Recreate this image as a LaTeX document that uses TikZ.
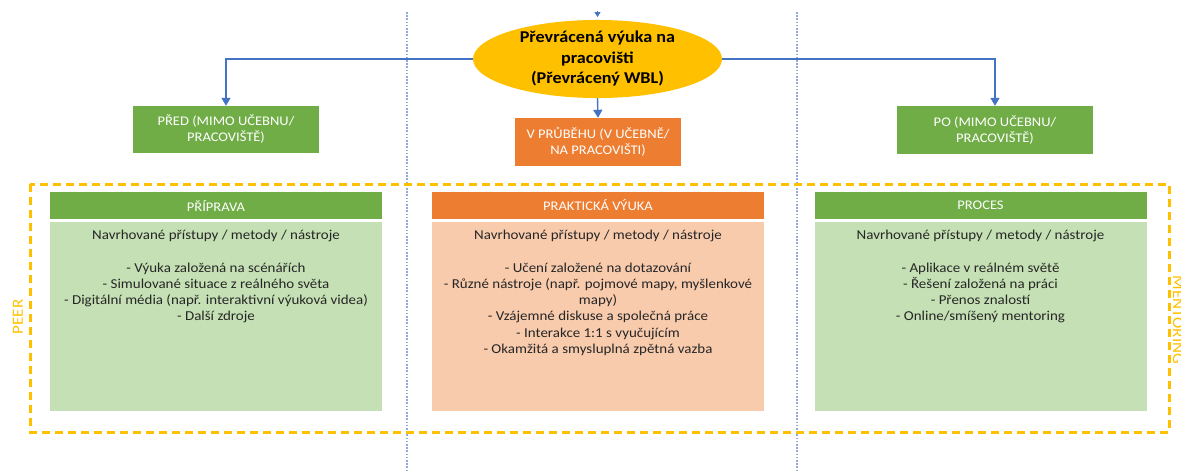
\documentclass[tikz,border=0pt]{standalone}
\usepackage{fontspec}
\setmainfont{Carlito}[FakeStretch=1.1]
\usetikzlibrary{shapes.geometric,arrows.meta}
\definecolor{wblgreen}{HTML}{70AD47}
\definecolor{wblgreenlight}{HTML}{C5E0B4}
\definecolor{wblorange}{HTML}{ED7D31}
\definecolor{wblorangelight}{HTML}{F8CBAD}
\definecolor{wblgold}{HTML}{FFC000}
\definecolor{wblblue}{HTML}{4472C4}
\definecolor{wblguide}{HTML}{8FAADC}
\definecolor{wbltext}{HTML}{262626}
\begin{document}
\begin{tikzpicture}[x=1pt,y=-1pt,
  conn/.style={draw=wblblue, line width=1.4pt, -{Triangle[width=9pt,length=8pt]}},
  guide/.style={draw=wblguide, line width=1.8pt, dash pattern=on 1.6pt off 1.6pt},
  phase/.style={rectangle, inner sep=0pt, text=white, align=center,
    font=\fontsize{13.2}{16}\selectfont},
  header/.style={rectangle, inner sep=0pt, minimum width=332pt, minimum height=27pt,
    text=white, font=\fontsize{13.2}{16}\selectfont},
  panel/.style={rectangle, inner sep=0pt, minimum width=332pt, minimum height=189pt},
  paneltext/.style={anchor=north, inner sep=0pt, align=center, text=wbltext,
    font=\fontsize{13.6}{16.3}\selectfont},
  side/.style={text=wblgold, inner sep=0pt, font=\fontsize{15.5}{18}\selectfont}
]
\useasboundingbox (0,0) rectangle (1181,472);
\clip (0,0) rectangle (1181,472);

% column separators
\draw[guide] (407,12) -- (407,472);
\draw[guide] (797,12) -- (797,472);

% dashed frame around the three panels
\draw[wblgold, line width=3pt, dash pattern=on 8pt off 5pt] (30,184) rectangle (1169,432);

% central topic
\node[ellipse, fill=wblgold, minimum width=249pt, minimum height=78pt, inner sep=0pt,
  align=center, font=\bfseries\fontsize{16.5}{20.5}\selectfont] (ell) at (597.5,59)
  {Převrácená výuka na\\pracovišti\\(Převrácený WBL)};

% phases
\node[phase, fill=wblgreen, minimum width=186pt, minimum height=47pt] (pred) at (226,129.5)
  {PŘED (MIMO UČEBNU/\\PRACOVIŠTĚ)};
\node[phase, fill=wblorange, minimum width=166pt, minimum height=48pt] (prub) at (598,142)
  {V PRŮBĚHU (V UČEBNĚ/\\NA PRACOVIŠTI)};
\node[phase, fill=wblgreen, minimum width=196pt, minimum height=48pt] (po) at (995,130)
  {PO (MIMO UČEBNU/\\PRACOVIŠTĚ)};

% connectors
\coordinate (feedA) at (597.5,11);
\coordinate (feedB) at (597.5,17);
\draw[wblblue, line width=1pt, -{Triangle[width=6pt,length=5pt]}] (feedA) -- (feedB);
\draw[conn] (ell.west) -| (pred.north);
\draw[conn] (ell.east) -| (po.north);
\draw[conn] (ell.south) -- (prub.north);

% panels
\node[header, fill=wblgreen] (h1) at (216,205.5) {PŘÍPRAVA};
\node[header, fill=wblorange] (h2) at (598,205.5) {PRAKTICKÁ VÝUKA};
\node[header, fill=wblgreen] (h3) at (980.5,205.5) {PROCES};

\node[panel, fill=wblgreenlight] (b1) at (216,316.5) {};
\node[panel, fill=wblorangelight] (b2) at (598,316.5) {};
\node[panel, fill=wblgreenlight] (b3) at (980.5,316.5) {};

\node[paneltext] (t1) at ([yshift=-8pt]b1.north)
  {Navrhované přístupy / metody / nástroje\\[16.3pt]
   - Výuka založená na scénářích\\
   - Simulované situace z reálného světa\\
   - Digitální média (např. interaktivní výuková videa)\\
   - Další zdroje};
\node[paneltext] (t2) at ([yshift=-8pt]b2.north)
  {Navrhované přístupy / metody / nástroje\\[16.3pt]
   - Učení založené na dotazování\\
   - Různé nástroje (např. pojmové mapy, myšlenkové\\
   mapy)\\
   - Vzájemné diskuse a společná práce\\
   - Interakce 1:1 s vyučujícím\\
   - Okamžitá a smysluplná zpětná vazba};
\node[paneltext] (t3) at ([yshift=-8pt]b3.north)
  {Navrhované přístupy / metody / nástroje\\[16.3pt]
   - Aplikace v reálném světě\\
   - Řešení založená na práci\\
   - Přenos znalostí\\
   - Online/smíšený mentoring};

% side labels
\node[side, rotate=90] (peer) at (18,317) {PEER};
\node[side, rotate=-90] (ment) at (1178,320) {MENTORING};
\end{tikzpicture}
\end{document}
